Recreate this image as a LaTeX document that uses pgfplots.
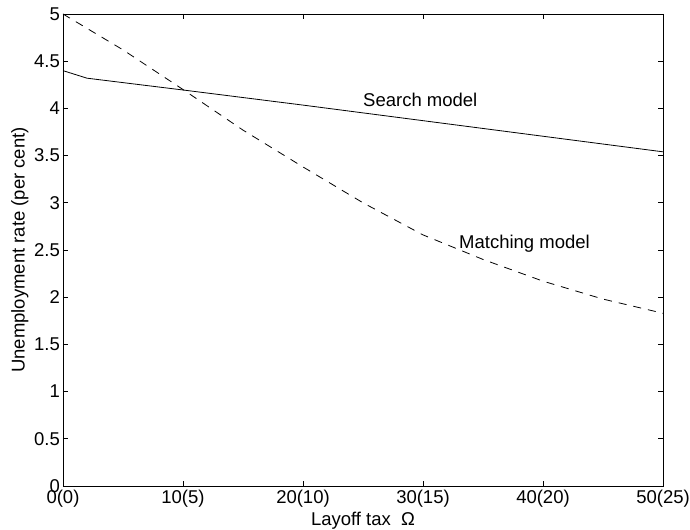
\documentclass[border=0pt]{standalone}
\usepackage{pgfplots}
\pgfplotsset{compat=1.18}
\usepackage{fontspec}
\setmainfont{Liberation Sans}
\begin{document}
\fontsize{18.5}{21}\selectfont
\begin{tikzpicture}
\begin{axis}[
  name=ax,
  scale only axis,
  width=600pt, height=472pt,
  xmin=0, xmax=50, ymin=0, ymax=5,
  axis line style={line width=0.8pt},
  every tick/.style={black, line width=0.8pt},
  major tick length=5pt,
  tick align=inside,
  xtick={0,10,20,30,40,50},
  xticklabels={0(0),10(5),20(10),30(15),40(20),50(25)},
  ytick={0,0.5,1,1.5,2,2.5,3,3.5,4,4.5,5},
  yticklabels={0,0.5,1,1.5,2,2.5,3,3.5,4,4.5,5},
  xticklabel style={inner sep=0pt, anchor=north, yshift=-4pt},
  yticklabel style={inner sep=0pt, anchor=east, xshift=-3pt},
  xlabel={Layoff tax~~Ω},
  ylabel={Unemployment rate (per cent)},
  xlabel style={at={(axis description cs:0.5,0)}, anchor=center, yshift=-35pt, inner sep=0pt},
  ylabel style={at={(axis description cs:-0.072,0.5)}, anchor=center, inner sep=0pt},
]
\addplot[black, line width=0.8pt] coordinates {
  (0,4.40) (2,4.32) (10,4.195) (20,4.035) (30,3.87) (40,3.705) (50,3.54)
};
\addplot[black, line width=0.8pt, dash pattern=on 8pt off 7pt] coordinates {
  (0,5.00) (5,4.62) (10,4.20) (15,3.77) (20,3.38) (25,3.00) (30,2.66) (35,2.40) (40,2.17) (45,1.98) (50,1.83)
};
\node[anchor=base west, inner sep=0pt] at (axis cs:25,4.025) {Search model};
\node[anchor=base west, inner sep=0pt] at (axis cs:33,2.518) {Matching model};
\end{axis}
\path[use as bounding box] ([xshift=-63pt,yshift=-43pt]ax.south west) rectangle ([xshift=27pt,yshift=14pt]ax.north east);
\end{tikzpicture}
\end{document}
